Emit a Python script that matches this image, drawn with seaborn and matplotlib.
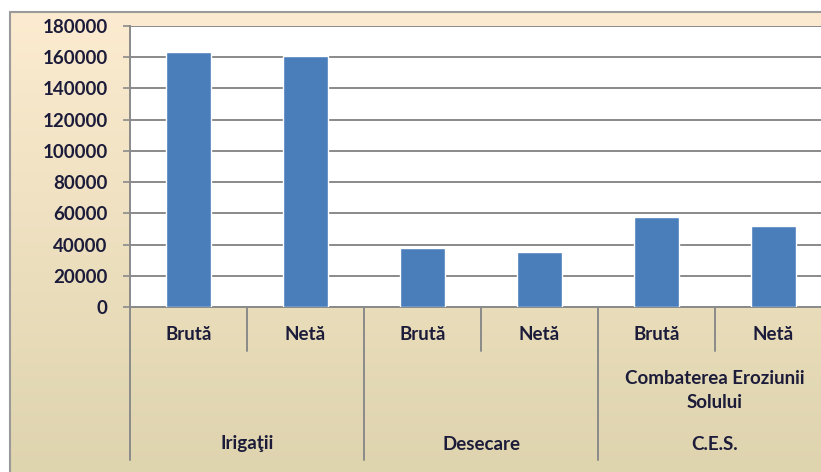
import numpy as np
import pandas as pd
import matplotlib
matplotlib.use("Agg")
import matplotlib.pyplot as plt
import matplotlib.transforms as mtransforms
from matplotlib.lines import Line2D
import seaborn as sns

# Surface areas with land improvement works (ha), gross vs. net
groups = ["Irigaţii", "Desecare", "C.E.S."]
group_notes = ["", "", "Combaterea Eroziunii\nSolului"]
kinds = ["Brută", "Netă"]
bruta = [163500, 37700, 57400]
neta = [160500, 35500, 51900]
y_ticks = [0, 20000, 40000, 60000, 80000, 100000, 120000, 140000, 160000, 180000]

rows = []
for g, b, n in zip(groups, bruta, neta):
    rows.append({"slot": f"{g}|{kinds[0]}", "group": g, "kind": kinds[0], "value": b})
    rows.append({"slot": f"{g}|{kinds[1]}", "group": g, "kind": kinds[1], "value": n})
df = pd.DataFrame(rows)

sns.set_theme(style="white")
plt.rcParams["font.family"] = ["Lato", "DejaVu Sans"]

W, H = 821, 472
fig = plt.figure(figsize=(W / 100, H / 100), dpi=100)
fig.patch.set_facecolor("white")

# Chart area background with a warm vertical gradient
bg_left, bg_top = 10 / W, 1 - 12 / H
bg = fig.add_axes([bg_left, 0, 1 - bg_left, bg_top], zorder=-5)
top_c = np.array([252, 235, 208]) / 255
bot_c = np.array([222, 212, 174]) / 255
t = np.linspace(0, 1, 256)[:, None]
grad = top_c[None, :] * (1 - t) + bot_c[None, :] * t
bg.imshow(np.repeat(grad[:, None, :], 2, axis=1), aspect="auto",
          extent=[0, 1, 0, 1], interpolation="bilinear")
bg.set_axis_off()
fig.add_artist(Line2D([bg_left, bg_left], [0, bg_top], color="#9a9a9a", lw=1.5))
fig.add_artist(Line2D([bg_left, 1], [bg_top, bg_top], color="#9a9a9a", lw=1.5))

# Plot area
x0, x1 = 130, 832
y0, y1 = 26, 307
ax = fig.add_axes([x0 / W, 1 - y1 / H, (x1 - x0) / W, (y1 - y0) / H])
ax.set_facecolor("white")

order = list(df["slot"])
sns.barplot(data=df, x="slot", y="value", order=order, color="#4A7EBB",
            saturation=1, width=0.39, ax=ax, zorder=3)

text_color = "#1c1c3a"
fs = 13.5

ax.set_ylim(0, 180000)
ax.set_yticks(y_ticks)
ax.set_yticklabels([str(v) for v in y_ticks])
ax.yaxis.grid(True, color="#8a8a8a", lw=1.4, zorder=0)
ax.set_axisbelow(True)
ax.set_xlabel("")
ax.set_ylabel("")
ax.set_xticks(range(len(order)))
ax.set_xticklabels([""] * len(order))
ax.tick_params(axis="x", length=0)
ax.tick_params(axis="y", direction="out", length=5, width=1.2, color="#8a8a8a",
               labelsize=fs, labelcolor=text_color, pad=11, left=True)
for lab in ax.get_yticklabels():
    lab.set_fontweight("bold")

for side in ["top", "right"]:
    ax.spines[side].set_visible(False)
for side in ["left", "bottom"]:
    ax.spines[side].set_color("#8a8a8a")
    ax.spines[side].set_linewidth(1.4)

# Multi-level category labels below the axis
trans = mtransforms.blended_transform_factory(ax.transData, ax.transAxes)
ph = y1 - y0
def ay(py):
    return (y1 - py) / ph

txt_kw = dict(transform=trans, ha="center", va="center", fontsize=fs,
              fontweight="bold", color=text_color, clip_on=False)
for i, row in df.iterrows():
    ax.text(i, ay(335), row["kind"], **txt_kw)

n_kind = len(kinds)
for gi, (g, note) in enumerate(zip(groups, group_notes)):
    center = gi * n_kind + (n_kind - 1) / 2
    ax.text(center, ay(444), g, **txt_kw)
    if note:
        for li, line in enumerate(note.split("\n")):
            ax.text(center, ay(378 + 25 * li), line, **txt_kw)

line_kw = dict(transform=trans, color="#8a8a8a", lw=1.4, clip_on=False)
for k in range(len(order) + 1):
    xpos = k - 0.5
    if k % n_kind == 0:
        ax.add_line(Line2D([xpos, xpos], [0, ay(460)], **line_kw))
    else:
        ax.add_line(Line2D([xpos, xpos], [0, ay(351)], **line_kw))

fig.savefig("out.png", dpi=100)
